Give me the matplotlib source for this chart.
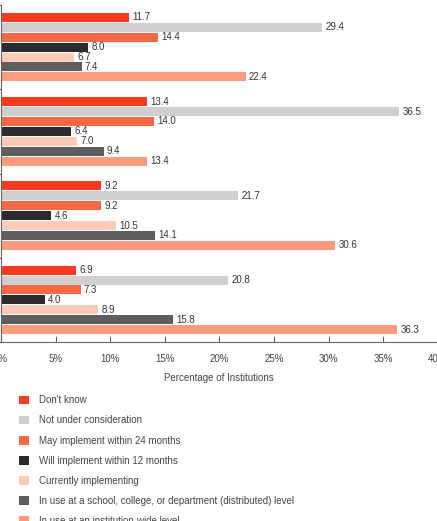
import matplotlib
matplotlib.use("Agg")
import matplotlib.pyplot as plt
from matplotlib.patches import Patch
from matplotlib import font_manager
import numpy as np

names = {f.name for f in font_manager.fontManager.ttflist}
fam = ['Liberation Sans Narrow', 'Liberation Sans', 'DejaVu Sans'] if 'Liberation Sans Narrow' in names else ['Liberation Sans', 'DejaVu Sans']
plt.rcParams['font.family'] = fam

categories = ["Group 1", "Group 2", "Group 3", "Group 4"]
series = [
    "Don't know",
    "Not under consideration",
    "May implement within 24 months",
    "Will implement within 12 months",
    "Currently implementing",
    "In use at a school, college, or department (distributed) level",
    "In use at an institution-wide level",
]
values = [
    [11.7, 13.4, 9.2, 6.9],
    [29.4, 36.5, 21.7, 20.8],
    [14.4, 14.0, 9.2, 7.3],
    [8.0, 6.4, 4.6, 4.0],
    [6.7, 7.0, 10.5, 8.9],
    [7.4, 9.4, 14.1, 15.8],
    [22.4, 13.4, 30.6, 36.3],
]
colors = ["#FF3A1C", "#CFCFCF", "#FF6744", "#2A2A2F", "#FFCAB6", "#5E5E60", "#FF9A7A"]
xticks = [0, 5, 10, 15, 20, 25, 30, 35, 40]
xticklabels = [f"{t}%" for t in xticks]

W, H = 437, 521
fig = plt.figure(figsize=(W / 100, H / 100), dpi=100)
x0, x1 = 0.9, 437.7
ytop, ybot = 5, 342
ax = fig.add_axes([x0 / W, 1 - ybot / H, (x1 - x0) / W, (ybot - ytop) / H])

n = len(series)
step = 0.1176
bh = 0.107
ypos = np.arange(len(categories))
fs = 7
for k, (s, vals, c) in enumerate(zip(series, values, colors)):
    y = ypos + (k - (n - 1) / 2) * step
    ax.barh(y, vals, height=bh, color=c, label=s)
    for yy, v in zip(y, vals):
        ax.text(v + 0.3, yy, f"{v:.1f}", va='center', ha='left', fontsize=fs, color='#333333')

ax.set_xlim(0, 40)
ax.set_ylim(len(categories) - 0.5, -0.5)
ax.set_xticks(xticks)
ax.set_xticklabels(xticklabels, fontsize=fs, color='#444444')
ax.set_yticks(np.arange(len(categories) + 1) - 0.5)
ax.set_yticklabels([])
ax.tick_params(axis='y', which='major', length=4, color='#666666')
ax.tick_params(axis='x', direction='in', length=4, color='#666666', pad=8.6)
for sp in ['top', 'right']:
    ax.spines[sp].set_visible(False)
for sp in ['left', 'bottom']:
    ax.spines[sp].set_color('#666666')
    ax.spines[sp].set_linewidth(0.8)
ax.set_xlabel("Percentage of Institutions", fontsize=fs, color='#444444', labelpad=6.5)

handles = [Patch(facecolor=c, edgecolor='none') for c in colors]
fig.legend(handles, series, loc='upper left', bbox_to_anchor=(19.3 / W, 1 - 395.3 / H),
           frameon=False, fontsize=fs, handlelength=1.0, handleheight=1.0,
           handletextpad=1.06, labelspacing=1.04, borderaxespad=0, borderpad=0,
           labelcolor='#444444')

fig.savefig("out.png", dpi=100)
